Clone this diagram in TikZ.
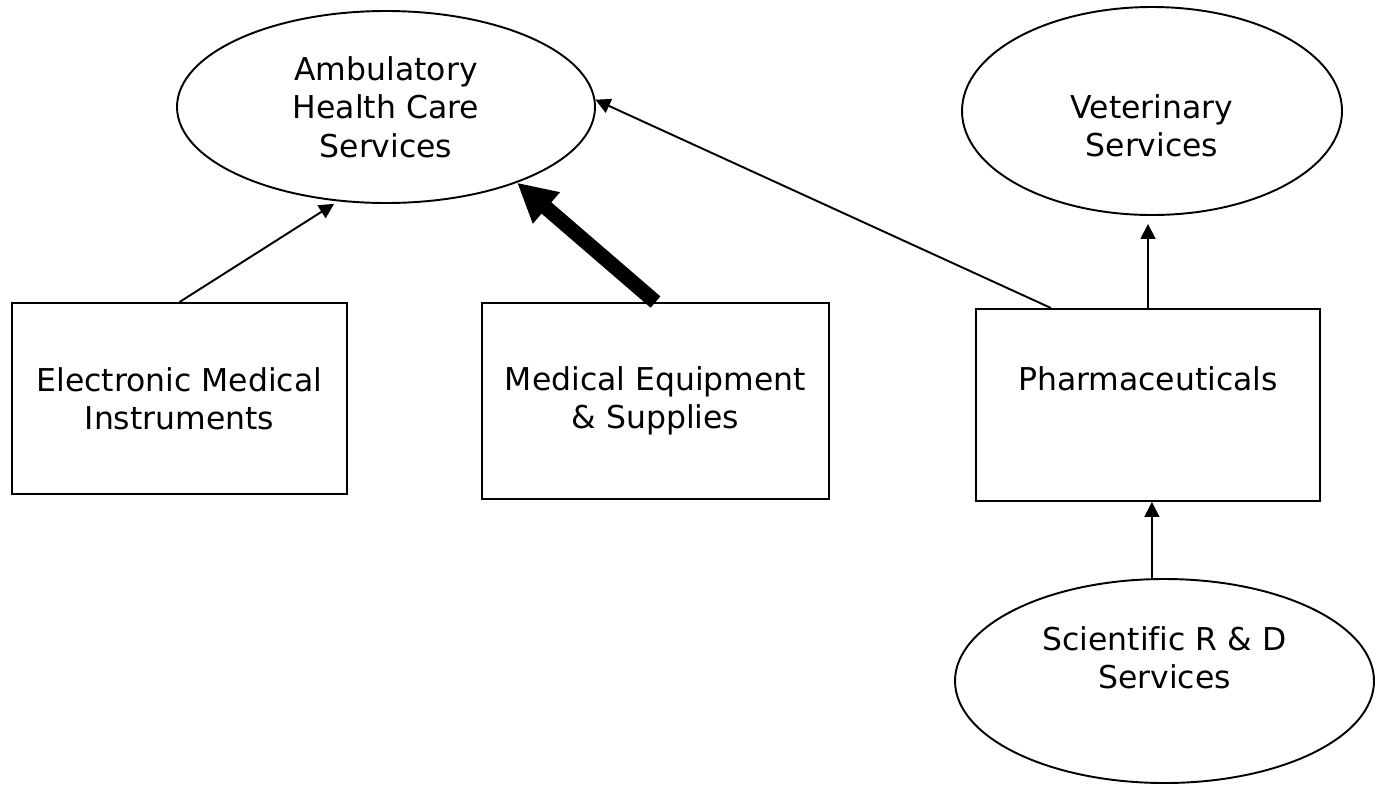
\documentclass[tikz,border=0pt]{standalone}
\usepackage{fontspec}
\setmainfont{DejaVu Sans}[Ligatures=CommonOff]
\usetikzlibrary{shapes.geometric, arrows.meta}

\tikzset{
  oval/.style={draw, ellipse, line width=1.1pt, inner sep=0pt, align=center},
  box/.style={draw, rectangle, line width=1.1pt, inner sep=0pt, align=center},
  link/.style={-{Triangle[length=8.5pt, width=8.5pt]}, line width=1.1pt},
  heavylink/.style={-{Triangle[length=22pt, width=22pt]}, line width=8.5pt},
}

\begin{document}
\begin{tikzpicture}[every node/.style={font=\fontsize{17.9}{21.8}\selectfont}]
  \useasboundingbox (0,0) rectangle (27.52,-15.70);

  % Service sectors
  \node[oval, minimum width=8.36cm, minimum height=3.84cm] (ahc) at (7.72,-2.14)
    {Ambulatory\\ Health Care\\ Services};
  \node[oval, minimum width=7.60cm, minimum height=4.16cm,
    label={[align=center, yshift=-0.30cm]center:Veterinary\\ Services}] (vet) at (23.04,-2.22) {};
  \node[oval, minimum width=8.38cm, minimum height=4.08cm,
    label={[align=center, yshift=0.47cm]center:Scientific R \& D\\ Services}] (sci) at (23.29,-13.62) {};

  % Manufacturing sectors
  \node[box, minimum width=6.70cm, minimum height=3.82cm] (emi) at (3.59,-7.97)
    {Electronic Medical\\ Instruments};
  \node[box, minimum width=6.94cm, minimum height=3.92cm] (mes) at (13.11,-8.02)
    {Medical Equipment\\ \& Supplies};
  \node[box, minimum width=6.88cm, minimum height=3.84cm,
    label={[yshift=0.52cm]center:Pharmaceuticals}] (pha) at (22.96,-8.10) {};

  % Links
  \draw[link, shorten >=0.09cm] (emi.north) -- (ahc.243);
  \draw[heavylink] (mes.north) -- (ahc.330);
  \draw[link] (pha.135) -- (ahc.2);
  \draw[link, shorten >=0.16cm] (pha.north) -- (pha.north |- vet.south);
  \draw[link] (sci.97) -- (sci.97 |- pha.south);
\end{tikzpicture}
\end{document}
